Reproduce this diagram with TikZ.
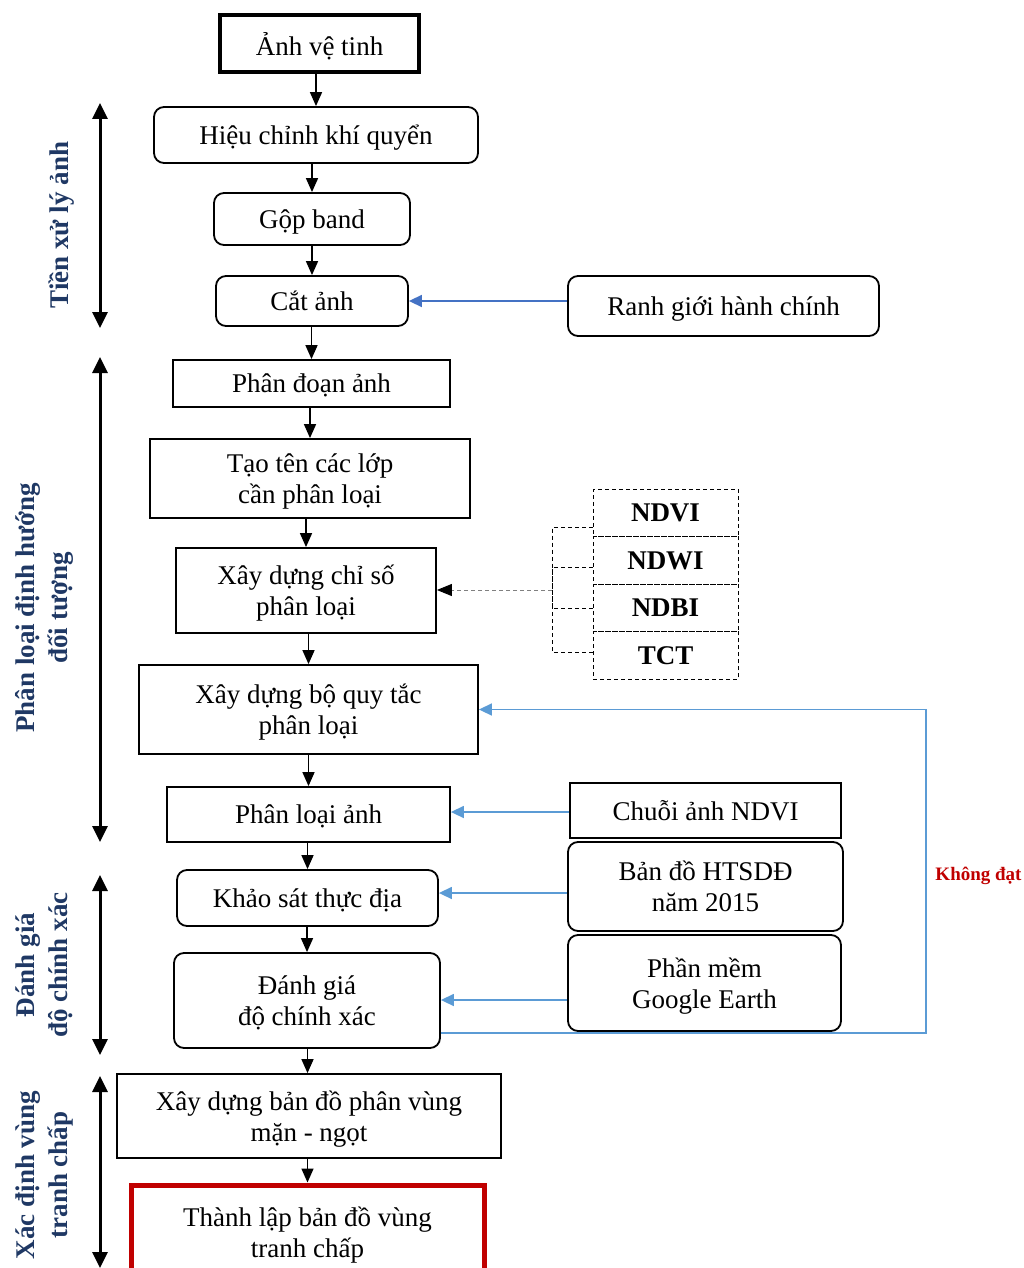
\documentclass[tikz,border=0pt]{standalone}
\usepackage{fontspec}
\setmainfont{Liberation Serif}
\usetikzlibrary{arrows.meta}
\pgfdeclarelayer{edgelayer}
\pgfdeclarelayer{nodelayer}
\pgfsetlayers{edgelayer,nodelayer,main}
\definecolor{stageblue}{HTML}{1F3864}
\definecolor{loopblue}{HTML}{5B9BD5}
\definecolor{clipblue}{HTML}{4472C4}
\definecolor{resultred}{HTML}{C00000}
\tikzstyle{none}=[inner sep=0pt]
\tikzstyle{plainbox}=[rectangle,draw=black,fill=white,line width=1.8pt,align=center,inner sep=2pt,text depth=-3pt,font=\fontsize{27}{31}\selectfont]
\tikzstyle{roundbox}=[plainbox,rounded corners=10pt]
\tikzstyle{dashline}=[dash pattern=on 4pt off 3pt,line width=1pt]
\tikzstyle{indexbox}=[rectangle,draw=black,dashline,minimum width=145pt,minimum height=47.5pt,font=\bfseries\fontsize{27}{31}\selectfont]
\tikzstyle{stage}=[inner sep=0pt,rotate=90,align=center,text=stageblue,font=\bfseries\fontsize{27}{33}\selectfont]
\tikzstyle{flowarrow}=[-{Triangle[width=12pt,length=14pt]},draw=black,line width=1.5pt]
\tikzstyle{feedarrow}=[-{Triangle[width=12pt,length=13pt]},draw=loopblue,line width=1.5pt]
\tikzstyle{phasearrow}=[{Triangle[width=15pt,length=16pt]}-{Triangle[width=15pt,length=16pt]},draw=black,line width=3pt]

\begin{document}
\begin{tikzpicture}[x=1pt,y=-1pt]
	\useasboundingbox (0,0) rectangle (1024,1268);
	\begin{pgfonlayer}{nodelayer}
		\node [style=plainbox, line width=3.5pt, minimum width=199pt, minimum height=57pt] (0) at (319.5, 43.5) {Ảnh vệ tinh};
		\node [style=roundbox, minimum width=324pt, minimum height=56pt] (1) at (316, 135) {Hiệu chỉnh khí quyển};
		\node [style=roundbox, minimum width=196pt, minimum height=52pt] (2) at (312, 219) {Gộp band};
		\node [style=roundbox, minimum width=192pt, minimum height=50pt] (3) at (312, 301) {Cắt ảnh};
		\node [style=roundbox, minimum width=311pt, minimum height=60pt] (4) at (723.5, 306) {Ranh giới hành chính};
		\node [style=plainbox, minimum width=277pt, minimum height=47pt] (5) at (311.5, 383.5) {Phân đoạn ảnh};
		\node [style=plainbox, minimum width=320pt, minimum height=79pt] (6) at (310, 478.5) {Tạo tên các lớp\\cần phân loại};
		\node [style=plainbox, minimum width=260pt, minimum height=85pt] (7) at (306, 590.5) {Xây dựng chỉ số\\phân loại};
		\node [style=indexbox] (8) at (665.5, 513) {NDVI};
		\node [style=indexbox] (9) at (665.5, 560.5) {NDWI};
		\node [style=indexbox] (10) at (665.5, 608) {NDBI};
		\node [style=indexbox] (11) at (665.5, 655.5) {TCT};
		\coordinate (12) at (552, 590);
		\node [style=plainbox, minimum width=339pt, minimum height=89pt] (13) at (308.5, 709.5) {Xây dựng bộ quy tắc\\phân loại};
		\node [style=plainbox, minimum width=283pt, minimum height=55pt] (14) at (308.5, 814.5) {Phân loại ảnh};
		\node [style=plainbox, minimum width=271pt, minimum height=55pt] (15) at (705.5, 810.5) {Chuỗi ảnh NDVI};
		\node [style=roundbox, minimum width=261pt, minimum height=56pt] (16) at (307.5, 898) {Khảo sát thực địa};
		\node [style=roundbox, minimum width=275pt, minimum height=89pt] (17) at (705.5, 886.5) {Bản đồ HTSDĐ\\năm 2015};
		\node [style=roundbox, minimum width=266pt, minimum height=95pt] (18) at (307, 1000.5) {Đánh giá\\độ chính xác};
		\node [style=roundbox, minimum width=273pt, minimum height=96pt] (19) at (704.5, 983) {Phần mềm\\Google Earth};
		\node [style=plainbox, minimum width=384pt, minimum height=84pt] (20) at (309, 1116) {Xây dựng bản đồ phân vùng\\mặn - ngọt};
		\node [style=plainbox, draw=resultred, line width=5pt, minimum width=353pt, minimum height=95pt] (21) at (307.5, 1232.5) {Thành lập bản đồ vùng\\tranh chấp};
		\coordinate (22) at (926, 1033);
		\node [style=none, text=resultred, font=\bfseries\fontsize{19}{22}\selectfont] (23) at (978.5, 876) {Không đạt};
		\node [style=stage] (24) at (62, 225) {Tiền xử lý ảnh};
		\node [style=stage] (25) at (44, 608) {Phân loại định hướng\\đối tượng};
		\node [style=stage] (26) at (44, 965) {Đánh giá\\độ chính xác};
		\node [style=stage] (27) at (44, 1175) {Xác định vùng\\tranh chấp};
		\coordinate (28) at (100, 103);
		\coordinate (29) at (100, 328);
		\coordinate (30) at (100, 357);
		\coordinate (31) at (100, 842);
		\coordinate (32) at (100, 875);
		\coordinate (33) at (100, 1055);
		\coordinate (34) at (100, 1076);
		\coordinate (35) at (100, 1268);
	\end{pgfonlayer}
	\begin{pgfonlayer}{edgelayer}
		\draw [style=flowarrow] (0.south -| 1.north) -- (1.north);
		\draw [style=flowarrow] (1.south -| 2) -- (2.north);
		\draw [style=flowarrow] (2) -- (3);
		\draw [style=flowarrow] (3.south -| 5) -- (5.north);
		\draw [style=flowarrow] (5.south -| 6) -- (6.north);
		\draw [style=flowarrow] (6.south -| 7) -- (7.north);
		\draw [style=flowarrow] (7.south -| 13) -- (13.north);
		\draw [style=flowarrow] (13) -- (14);
		\draw [style=flowarrow] (14.south -| 16) -- (16.north);
		\draw [style=flowarrow] (16.south -| 18) -- (18.north);
		\draw [style=flowarrow] (18.south -| 21) -- (20.north -| 21);
		\draw [style=flowarrow] (20.south -| 21) -- (21.north);
		\draw [style=feedarrow, draw=clipblue] (4.west |- 3.east) -- (3.east);
		\draw [style=feedarrow] (15.west |- 0,812) -- (14.east |- 0,812);
		\draw [style=feedarrow] (17.west |- 0,893) -- (16.east |- 0,893);
		\draw [style=feedarrow] (19.west |- 0,1000) -- (18.east |- 0,1000);
		\draw [style=feedarrow] (18.east |- 22) -- (22) |- (13.east);
		\draw [style=dashline] (8.west |- 0,527) -| (12);
		\draw [style=dashline] (9.west |- 0,567) -| (12);
		\draw [style=dashline] (10.west) -| (12);
		\draw [style=dashline] (11.west |- 0,652) -| (12);
		\draw [style=dashline, draw=gray, -{Triangle[width=12pt,length=15pt,color=black]}] (12) -- (7.east |- 12);
		\draw [style=phasearrow] (28) -- (29);
		\draw [style=phasearrow] (30) -- (31);
		\draw [style=phasearrow] (32) -- (33);
		\draw [style=phasearrow] (34) -- (35);
	\end{pgfonlayer}
\end{tikzpicture}
\end{document}
